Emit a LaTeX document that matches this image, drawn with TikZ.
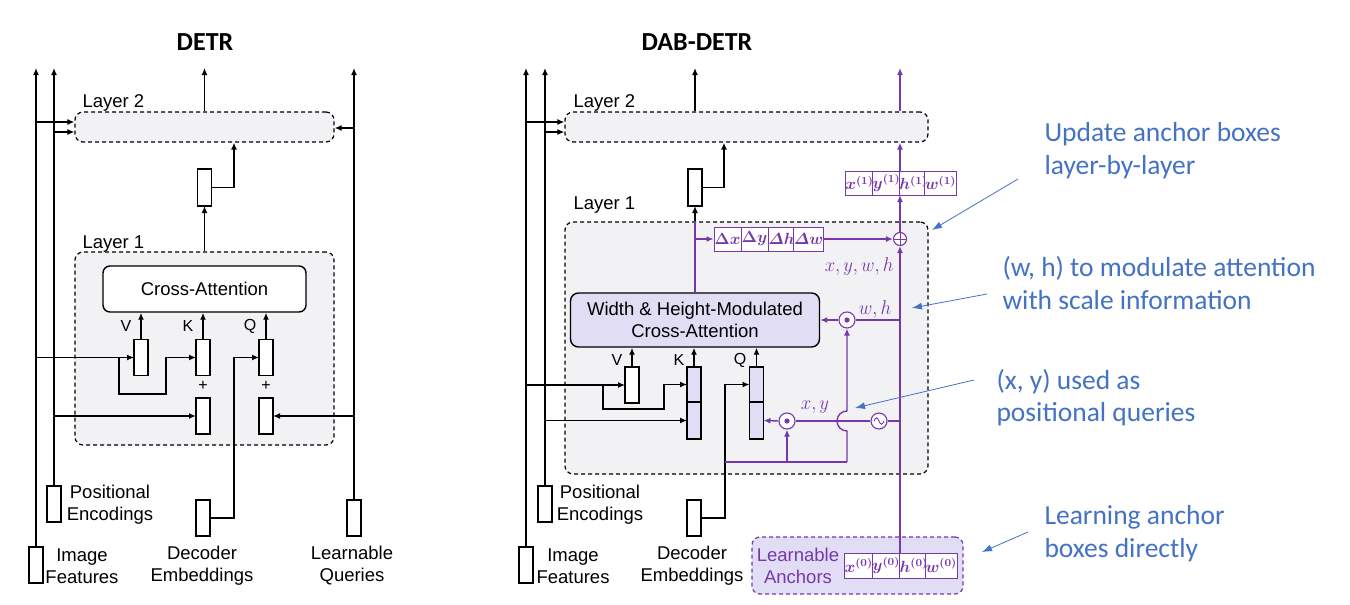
\documentclass[tikz,border=0pt]{standalone}
\usepackage{amsmath}
\usepackage{bm}
\usepackage{fontspec}
\setmainfont{Liberation Sans}
\newfontfamily\calib{Carlito}
\usetikzlibrary{arrows.meta,calc}
\definecolor{dabpurple}{RGB}{118,56,170}
\definecolor{lavender}{RGB}{225,221,245}
\definecolor{layergray}{RGB}{242,242,245}
\definecolor{annblue}{RGB}{68,114,196}
\newcommand{\cellmath}[1]{\scalebox{1.35}{$\boldsymbol{#1}$}}
\newcommand{\purmath}[1]{\scalebox{1.08}[1.15]{$#1$}}
\begin{document}
\begin{tikzpicture}[x=1pt,y=-1pt,font=\fontsize{18.5}{22}\selectfont,
  blk/.style={line width=1.4pt},
  arr/.style={-{Latex[length=7pt,width=6pt]}},
  pline/.style={draw=dabpurple,line width=1.4pt},
  parr/.style={-{Latex[length=7pt,width=6pt]},draw=dabpurple,line width=1.4pt},
  vecbox/.style={draw,line width=1.4pt,fill=white,minimum width=14pt,minimum height=36pt,inner sep=0pt,outer sep=0pt},
  lavbox/.style={vecbox,fill=lavender},
  layerbox/.style={draw,dash pattern=on 4pt off 3pt,rounded corners=8pt,fill=layergray,line width=1.2pt,inner sep=0pt},
  title/.style={font=\calib\bfseries\fontsize{26}{30}\selectfont},
  lab/.style={align=center},
  qlab/.style={font=\fontsize{16}{16}\selectfont},
  cell/.style={draw=dabpurple,line width=0.9pt,fill=white,minimum width=27pt,minimum height=24pt,inner sep=0pt,text=dabpurple,font=\fontsize{12}{12}\selectfont},
  pcirc/.style={circle,draw=dabpurple,line width=1.1pt,fill=white,minimum size=16pt,inner sep=0pt},
  mlab/.style={text=dabpurple,font=\fontsize{17.28}{18}\selectfont},
  ann/.style={anchor=base west,text=annblue,font=\calib\fontsize{27.5}{33}\selectfont},
  annarr/.style={draw=annblue,line width=0.8pt,-{Latex[length=10pt,width=7pt]}}]
\fill[white] (0,0) rectangle (1350,605);
\useasboundingbox (0,0) rectangle (1350,605);

% ---------------- titles
\node[title] (t1) at (205,42) {DETR};
\node[title] (t2) at (697,42) {DAB-DETR};

% ================= DETR (left)
\node[layerbox,minimum width=259pt,minimum height=30pt] (L2a) at (204.5,127) {};
\node[anchor=base west] (L2alab) at (79,107) {Layer 2};
\node[layerbox,minimum width=259pt,minimum height=193pt] (L1a) at (204.5,348.5) {};
\node[anchor=base west] (L1alab) at (79,248) {Layer 1};
\node[draw,line width=1.4pt,fill=white,rounded corners=7pt,minimum width=203pt,minimum height=46pt] (CAa) at (204.5,289) {Cross-Attention};
\node[vecbox] (Va) at (141,357.5) {};
\node[vecbox] (Ka) at (203,357.5) {};
\node[vecbox] (Qa) at (266,357.5) {};
\node[vecbox] (K2a) at (203,416) {};
\node[vecbox] (Q2a) at (266,416) {};
\node[qlab] (plusKa) at (203,386) {+};
\node[qlab] (plusQa) at (266,386) {+};
\node[qlab] (Vlab) at (126,326) {V};
\node[qlab] (Klab) at (188,326) {K};
\node[qlab] (Qlab) at (250,326) {Q};
\node[vecbox,minimum height=37pt] (Ma) at (204.5,187.5) {};
\node[vecbox] (IFa) at (36,565) {};
\node[vecbox] (PEa) at (54,504) {};
\node[vecbox] (DEa) at (203,518) {};
\node[vecbox] (LQa) at (354,518) {};
\node[lab] (IFalab) at (82,566) {Image\\Features};
\node[lab] (PEalab) at (110,504.5) {Positional\\Encodings};
\node[lab] (DEalab) at (202,566) {Decoder\\Embeddings};
\node[lab] (LQalab) at (352,566) {Learnable\\Queries};

\draw[blk,arr] (IFa.north) -- (36,68);
\draw[blk,arr] (PEa.north) -- (54,68);
\draw[blk,arr] (LQa.north) -- (354,68);
\draw[blk,arr] (36,122) -- (L2a.west |- 0,122);
\draw[blk,arr] (54,132) -- (L2a.west |- 0,132);
\draw[blk,arr] (354,128) -- (L2a.east |- 0,128);
\draw[blk,arr] (L2a.north -| Ma.north) -- (204.5,68);
\draw[blk,arr] (L1a.north -| Ma.south) -- (Ma.south);
\draw[blk,arr] (Ma.east) -| (L2a.south -| 234,0);
\draw[blk,arr] (Va.north) -- (Va.north |- CAa.south);
\draw[blk,arr] (Ka.north) -- (Ka.north |- CAa.south);
\draw[blk,arr] (Qa.north) -- (Qa.north |- CAa.south);
\draw[blk,arr] (Va.west -| IFa.north) -- (Va.west);
\draw[blk,arr] (Va.west -| 119,0) -- (119,394) -- (166,394) |- (Ka.west);
\draw[blk,arr] (K2a.west -| PEa.north) -- (K2a.west);
\draw[blk,arr] (Q2a.east -| LQa.north) -- (Q2a.east);
\draw[blk,arr] (DEa.east) -| (Qa.west -| 234,0) -- (Qa.west);

% ================= DAB-DETR (right)
\node[layerbox,minimum width=363pt,minimum height=30pt] (L2b) at (746.5,127) {};
\node[anchor=base west] (L2blab) at (570,107) {Layer 2};
\node[layerbox,minimum width=363pt,minimum height=252pt] (L1b) at (746.5,348) {};
\node[anchor=base west] (L1blab) at (570,209) {Layer 1};
\node[vecbox,minimum height=37pt] (Mb) at (695,187.5) {};
\node[vecbox] (IFb) at (526,565) {};
\node[vecbox] (PEb) at (545,504) {};
\node[vecbox] (DEb) at (694,518) {};
\node[lab] (IFblab) at (573,566) {Image\\Features};
\node[lab] (PEblab) at (600,504.5) {Positional\\Encodings};
\node[lab] (DEblab) at (692,566) {Decoder\\Embeddings};

\node[draw,line width=1.4pt,fill=lavender,rounded corners=8pt,minimum width=249pt,minimum height=54pt,align=center,font=\fontsize{18.5}{22}\selectfont] (WH) at (695,320) {Width \& Height-Modulated\\Cross-Attention};
\node[vecbox,minimum height=36pt] (Vb) at (632,385) {};
\node[lavbox,minimum height=35pt] (Kt) at (694,384.5) {};
\node[lavbox,minimum height=37pt] (Kb) at (694,420.5) {};
\node[lavbox,minimum height=35pt] (Qt) at (756.5,384.5) {};
\node[lavbox,minimum height=37pt] (Qb) at (756.5,420.5) {};
\node[qlab] (Vblab) at (617,360) {V};
\node[qlab] (Kblab) at (679,360) {K};
\node[qlab] (Qblab) at (740,360) {Q};

\draw[blk,arr] (IFb.north) -- (526,68);
\draw[blk,arr] (PEb.north) -- (545,68);
\draw[blk,arr] (526,122) -- (L2b.west |- 0,122);
\draw[blk,arr] (545,132) -- (L2b.west |- 0,132);
\draw[blk,arr] (L2b.north -| Mb.north) -- (695,68);
\draw[blk,arr] (Mb.east) -| (L2b.south -| 724,0);
\draw[blk,arr] (Vb.north) -- (Vb.north |- WH.south);
\draw[blk,arr] (Kt.north) -- (Kt.north |- WH.south);
\draw[blk,arr] (Qt.north) -- (Qt.north |- WH.south);
\draw[blk,arr] (Vb.west -| IFb.north) -- (Vb.west);
\draw[blk,arr] (Vb.west -| 603,0) -- (603,409) -- (664,409) |- (Kt.west);
\draw[blk,arr] (Kb.west -| PEb.north) -- (Kb.west);
\draw[blk,arr] (DEb.east) -| (Qt.west -| 725,0) -- (Qt.west);

% purple: update path
\draw[pline] (WH.north) -- (WH.north |- L1b.north);
\draw[blk,arr] (WH.north |- L1b.north) -- (Mb.south);
\node[cell] (D1) at (727.5,239) {\cellmath{\Delta x}};
\node[cell] (D2) at (754.5,239) {\cellmath{\Delta y}};
\node[cell] (D3) at (781.5,239) {\cellmath{\varDelta h}};
\node[cell] (D4) at (808.5,239) {\cellmath{\varDelta w}};
\draw[parr] (D1.west -| WH.north) -- (D1.west);
\node[circle,draw=dabpurple,line width=1.1pt,fill=white,minimum size=13pt,inner sep=0pt] (plus) at (900,239) {};
\draw[dabpurple,line width=0.9pt] (plus.north) -- (plus.south) (plus.west) -- (plus.east);
\draw[parr] (D4.east) -- (plus.west);

\node[cell] (X1a) at (859.5,183) {\cellmath{x^{(1)}}};
\node[cell] (X1b) at (886.5,183) {\cellmath{y^{(1)}}};
\node[cell] (X1c) at (913.5,183) {\cellmath{h^{(1)}}};
\node[cell] (X1d) at (940.5,183) {\cellmath{w^{(1)}}};
\coordinate (X1s) at (900,195);
\coordinate (X1n) at (900,171);
\draw[parr] (plus.north) -- (X1s);
\draw[parr] (X1n) -- (L2b.south -| X1n);
\draw[parr] (L2b.north -| X1n) -- (900,68);

% learnable anchors
\node[draw=dabpurple,dash pattern=on 4pt off 3pt,line width=1.2pt,rounded corners=8pt,fill=lavender,minimum width=211pt,minimum height=57pt] (LA) at (857.5,565.5) {};
\node[lab,text=dabpurple] (LAlab) at (798,566) {Learnable\\Anchors};
\node[cell,minimum width=27.5pt,minimum height=25pt] (X0a) at (858.75,565.5) {\cellmath{x^{(0)}}};
\node[cell,minimum width=27.5pt,minimum height=25pt] (X0b) at (886.25,565.5) {\cellmath{y^{(0)}}};
\node[cell,minimum width=27.5pt,minimum height=25pt] (X0c) at (913.75,565.5) {\cellmath{h^{(0)}}};
\node[cell,minimum width=27.5pt,minimum height=25pt] (X0d) at (941.25,565.5) {\cellmath{w^{(0)}}};
\coordinate (X0n) at (900,553);
\draw[parr] (X0n) -- (plus.south);
\node[mlab,anchor=base east] (xywh) at (897,271) {\purmath{x,y,w,h}};

% w,h modulation
\node[pcirc] (odwh) at (847,320) {};
\fill[dabpurple] (odwh.center) circle (2.6);
\draw[parr] (odwh.west) -- (odwh.west -| WH.east);
\draw[pline] (odwh.east -| plus.south) -- (odwh.east);
\node[mlab] (whlab) at (875,310) {\purmath{w,h}};

% x,y positional
\node[pcirc] (odxy) at (787,421) {};
\fill[dabpurple] (odxy.center) circle (2.6);
\node[pcirc] (sine) at (879,421) {};
\draw[dabpurple,line width=0.9pt] ($(sine.center)+(-5,0)$) sin ++(2.5,-3.2) cos ++(2.5,3.2) sin ++(2.5,3.2) cos ++(2.5,-3.2);
\draw[parr] (odxy.west) -- (Qb.east);
\draw[pline] (sine.east -| plus.south) -- (sine.east);
\draw[pline] (sine.west) -- (odxy.east);
\node[mlab] (xylab) at (815,407) {\purmath{x,y}};
\draw[pline] (725,462) -- (847,462);
\draw[parr] (847,462) -- (847,431) arc[start angle=90,end angle=270,radius=10] -- (odwh.south);
\draw[parr] (787,462) -- (odxy.south);

% ================= annotations
\node[ann] (an1a) at (1041,141) {Update anchor boxes};
\node[ann] (an1b) at (1041,174) {layer-by-layer};
\node[ann] (an2a) at (999,276) {(w, h) to modulate attention};
\node[ann] (an2b) at (999,309) {with scale information};
\node[ann] (an3a) at (993,389) {(x, y) used as};
\node[ann] (an3b) at (993,421) {positional queries};
\node[ann] (an4a) at (1041,524) {Learning anchor};
\node[ann] (an4b) at (1041,557) {boxes directly};
\coordinate (a1s) at (1018,179); \coordinate (a1e) at (932,230);
\coordinate (a2s) at (987,294); \coordinate (a2e) at (912,308);
\coordinate (a3s) at (974,380); \coordinate (a3e) at (855,408);
\coordinate (a4s) at (1028,532); \coordinate (a4e) at (982,552);
\draw[annarr] (a1s) -- (a1e);
\draw[annarr] (a2s) -- (a2e);
\draw[annarr] (a3s) -- (a3e);
\draw[annarr] (a4s) -- (a4e);
\end{tikzpicture}
\end{document}
